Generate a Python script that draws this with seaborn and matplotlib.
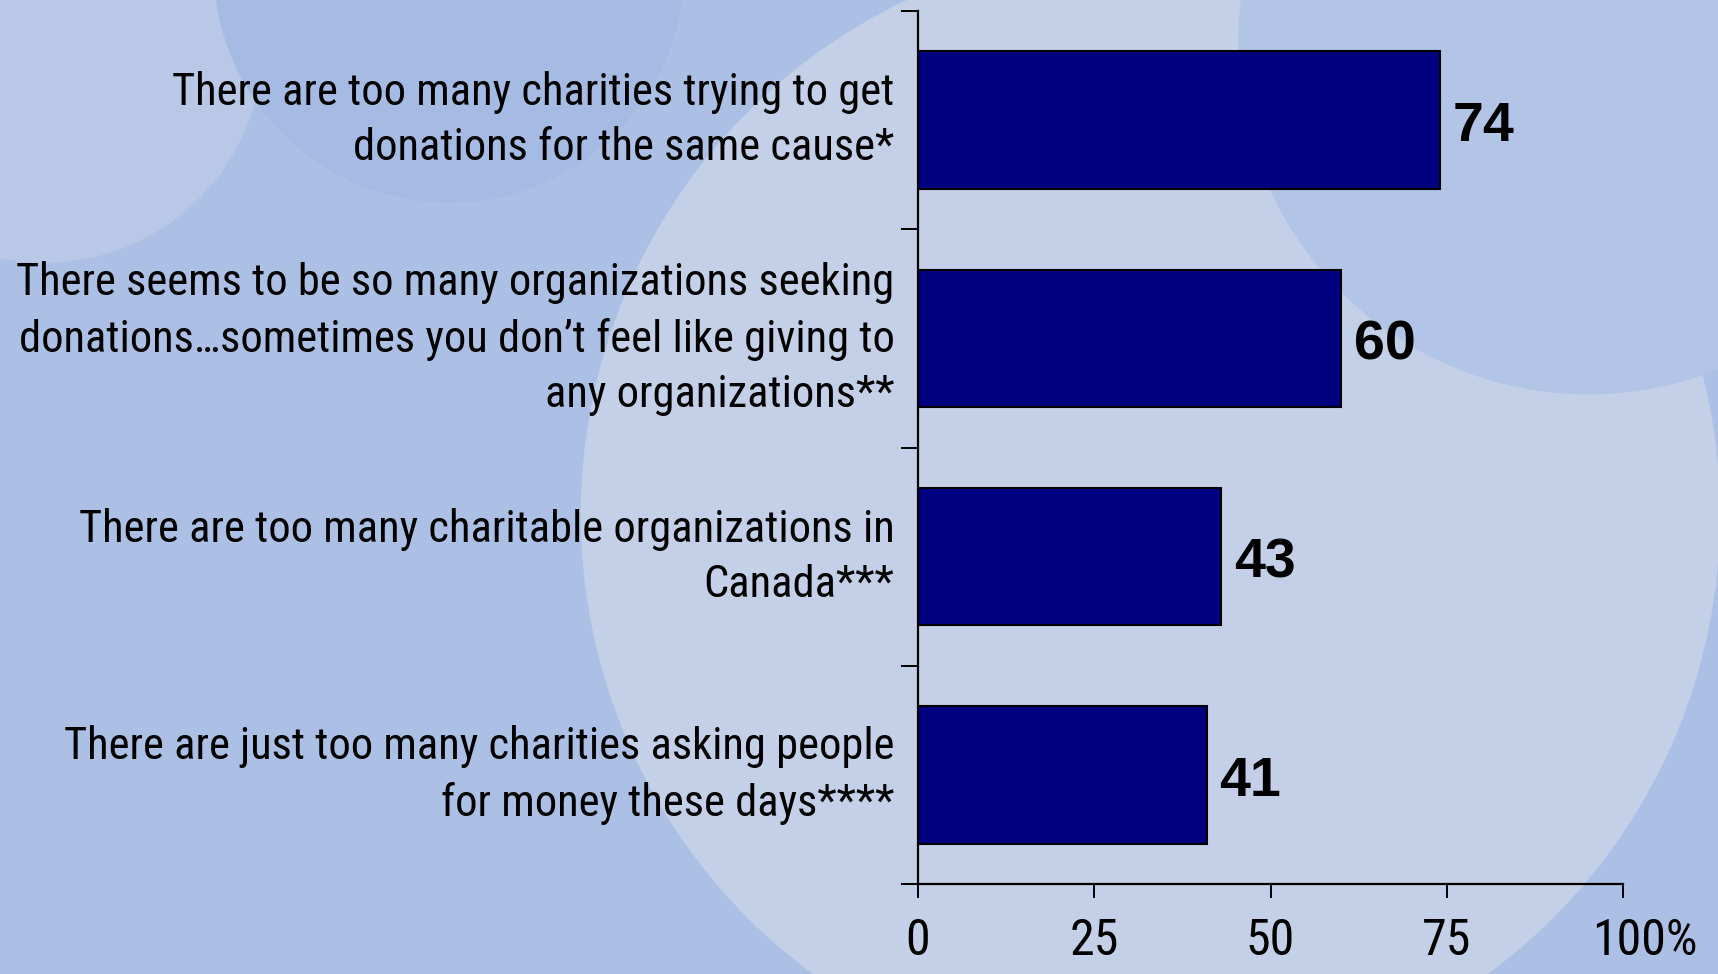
import matplotlib
matplotlib.use("Agg")
import matplotlib.pyplot as plt
from matplotlib.patches import Circle
from matplotlib.transforms import ScaledTranslation
from matplotlib import font_manager
import seaborn as sns
import pandas as pd

categories = [
    "There are too many charities trying to get\ndonations for the same cause*",
    "There seems to be so many organizations seeking\ndonations\u2026sometimes you don\u2019t feel like giving to\nany organizations**",
    "There are too many charitable organizations in\nCanada***",
    "There are just too many charities asking people\nfor money these days****",
]
values = [74, 60, 43, 41]
xticks = [0, 25, 50, 75, 100]
xticklabels = ["0", "25", "50", "75", "100%"]

sns.set_theme(style="white")
plt.rcParams["font.family"] = ["Liberation Sans", "DejaVu Sans"]
plt.rcParams["text.color"] = "black"
plt.rcParams["xtick.color"] = "black"
plt.rcParams["ytick.color"] = "black"

# look for a condensed / narrow face
cands = []
for f in font_manager.fontManager.ttflist:
    p = f.fname.lower()
    if ("narrow" in p or "condensed" in p) and not any(k in p for k in ["bold", "italic", "oblique", "light", "thin", "black", "medium", "semi", "extra"]):
        cands.append(f)
def rank(f):
    p = f.fname.lower()
    if "liberation" in p: return 0
    if "arial" in p: return 1
    if "roboto" in p: return 2
    if "dejavu" in p: return 3
    return 4
cands.sort(key=rank)
if cands:
    lab_fp = font_manager.FontProperties(fname=cands[0].fname)
else:
    lab_fp = font_manager.FontProperties(family=["Liberation Sans", "DejaVu Sans"])

W, H = 17.18, 9.74
fig = plt.figure(figsize=(W, H), dpi=100)
base = "#abc0e4"
fig.patch.set_facecolor(base)

s = 1718 / 1568 / 100.0
def circ(xd, yd, rd, color):
    c = Circle((xd * s, H - yd * s), rd * s, transform=fig.dpi_scale_trans,
               facecolor=color, edgecolor="none", zorder=-10)
    fig.add_artist(c)

circ(40, 40, 200, "#b8c8e6")
circ(1050, 470, 520, "#c3d0e7")
circ(1450, 40, 320, "#b3c5e7")
circ(410, -30, 215, "#a6bbe3")

ax = fig.add_axes([918 / 1718, 90 / 974, (1623 - 918) / 1718, (884 - 11) / 974])
ax.set_facecolor("none")

df = pd.DataFrame({"cat": categories, "val": values})
sns.barplot(data=df, x="val", y="cat", orient="h", color="#000080",
            edgecolor="black", linewidth=1.5, width=0.63, saturation=1, ax=ax)

ax.set_xlim(0, 100)
ax.set_ylim(3.5, -0.5)
ax.set_xlabel("")
ax.set_ylabel("")

for sp in ["top", "right"]:
    ax.spines[sp].set_visible(False)
for sp in ["left", "bottom"]:
    ax.spines[sp].set_color("black")
    ax.spines[sp].set_linewidth(1.6)

ax.set_xticks(xticks)
ax.set_xticklabels(xticklabels)
for t in ax.get_xticklabels():
    t.set_fontproperties(lab_fp)
    t.set_fontsize(36)
    t.set_color("black")
ax.tick_params(axis="x", bottom=True, direction="out", length=10, width=1.4, color="black", pad=14)

ax.set_yticks(range(len(categories)))
ax.set_yticklabels(categories)
for t in ax.get_yticklabels():
    t.set_fontproperties(lab_fp)
    t.set_fontsize(32)
    t.set_linespacing(1.4)
    t.set_verticalalignment("center")
    t.set_color("black")
ax.tick_params(axis="y", which="major", left=False, length=0, pad=17)
ax.set_yticks([i - 0.5 for i in range(len(categories) + 1)], minor=True)
ax.tick_params(axis="y", which="minor", direction="out", length=12, width=1.4, color="black", left=True)

lbls = ax.get_xticklabels()
lbls[-1].set_transform(lbls[-1].get_transform() + ScaledTranslation(0.22, 0, fig.dpi_scale_trans))

for i, v in enumerate(values):
    ax.annotate(str(v), xy=(v, i), xytext=(9, -5), textcoords="offset points",
                ha="left", va="center", fontsize=40, fontweight="bold",
                family=["Liberation Sans", "DejaVu Sans"], color="black")

fig.savefig("out.png", dpi=100, facecolor=fig.get_facecolor())
